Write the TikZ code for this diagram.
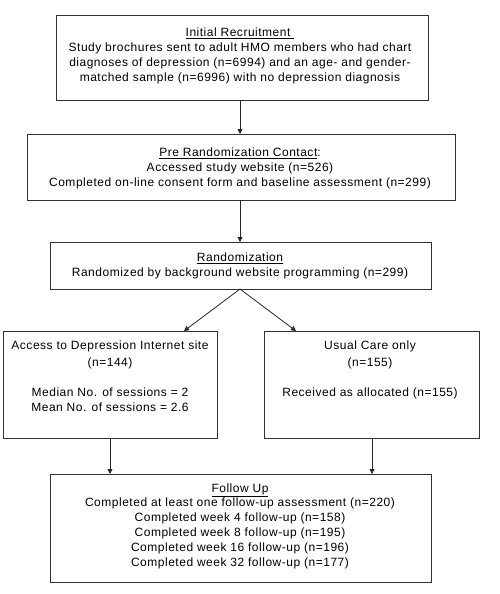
\documentclass[tikz,border=0pt]{standalone}
\usepackage{fontspec}
\setmainfont{Liberation Sans}[LetterSpace=4.3]
\usetikzlibrary{arrows.meta}
\begin{document}
\begin{tikzpicture}[x=1pt,y=-1pt,
  box/.style={draw=black!80, line width=0.8pt, inner sep=0pt, anchor=north west},
  txt/.style={align=center, inner sep=0pt, font=\fontsize{12}{14.8}\selectfont},
  arr/.style={draw=black!85, line width=0.8pt, -{Triangle[length=5pt,width=5pt]}}]
\useasboundingbox (0,0) rectangle (500,594);
\fill[white] (0,0) rectangle (500,594);
% boxes
\node[box, minimum width=372pt, minimum height=85pt] (b1) at (56,15) {};
\node[box, minimum width=428pt, minimum height=66pt] (b2) at (27,134) {};
\node[box, minimum width=381pt, minimum height=47pt] (b3) at (50,242) {};
\node[box, minimum width=214pt, minimum height=107pt] (b4) at (3,331) {};
\node[box, minimum width=215pt, minimum height=107pt] (b5) at (264,331) {};
\node[box, minimum width=381pt, minimum height=108pt] (b6) at (50,474) {};
% texts
\node[txt] (t1) at (240,56) {\underline{Initial Recruitment }\\Study brochures sent to adult HMO members who had chart\\diagnoses of depression (n=6994) and an age- and gender-\\matched sample (n=6996) with no depression diagnosis};
\node[txt] (t2) at (240,168.5) {\underline{Pre Randomization Contact}:\\Accessed study website (n=526)\\Completed on-line consent form and baseline assessment (n=299)};
\node[txt] (t3) at (240,265.5) {\underline{Randomization}\\Randomized by background website programming (n=299)};
\node[txt, anchor=north] (t4) at (110,341) {Access to Depression Internet site\\[1.5pt](n=144)\\[16pt]Median No. of sessions = 2\\Mean No. of sessions = 2.6};
\node[txt, anchor=north] (t5) at (370,341) {Usual Care only\\[1.5pt](n=155)\\[16pt]Received as allocated (n=155)};
\node[txt] (t6) at (240,526) {\underline{Follow Up}\\Completed at least one follow-up assessment (n=220)\\Completed week 4 follow-up (n=158)\\Completed week 8 follow-up (n=195)\\Completed week 16 follow-up (n=196)\\Completed week 32 follow-up (n=177)};
% connectors
\coordinate (a1) at (240,100);
\coordinate (a2) at (240,200);
\coordinate (a3) at (240,289);
\draw[arr] (a1) -- (a1 |- b2.north);
\draw[arr] (a2) -- (a2 |- b3.north);
\draw[arr] (a3) -- (184,331);
\draw[arr] (a3) -- (296,331);
\coordinate (l4) at (110,438);
\coordinate (r5) at (372,438);
\draw[arr] (l4) -- (l4 |- b6.north);
\draw[arr] (r5) -- (r5 |- b6.north);
\end{tikzpicture}
\end{document}
